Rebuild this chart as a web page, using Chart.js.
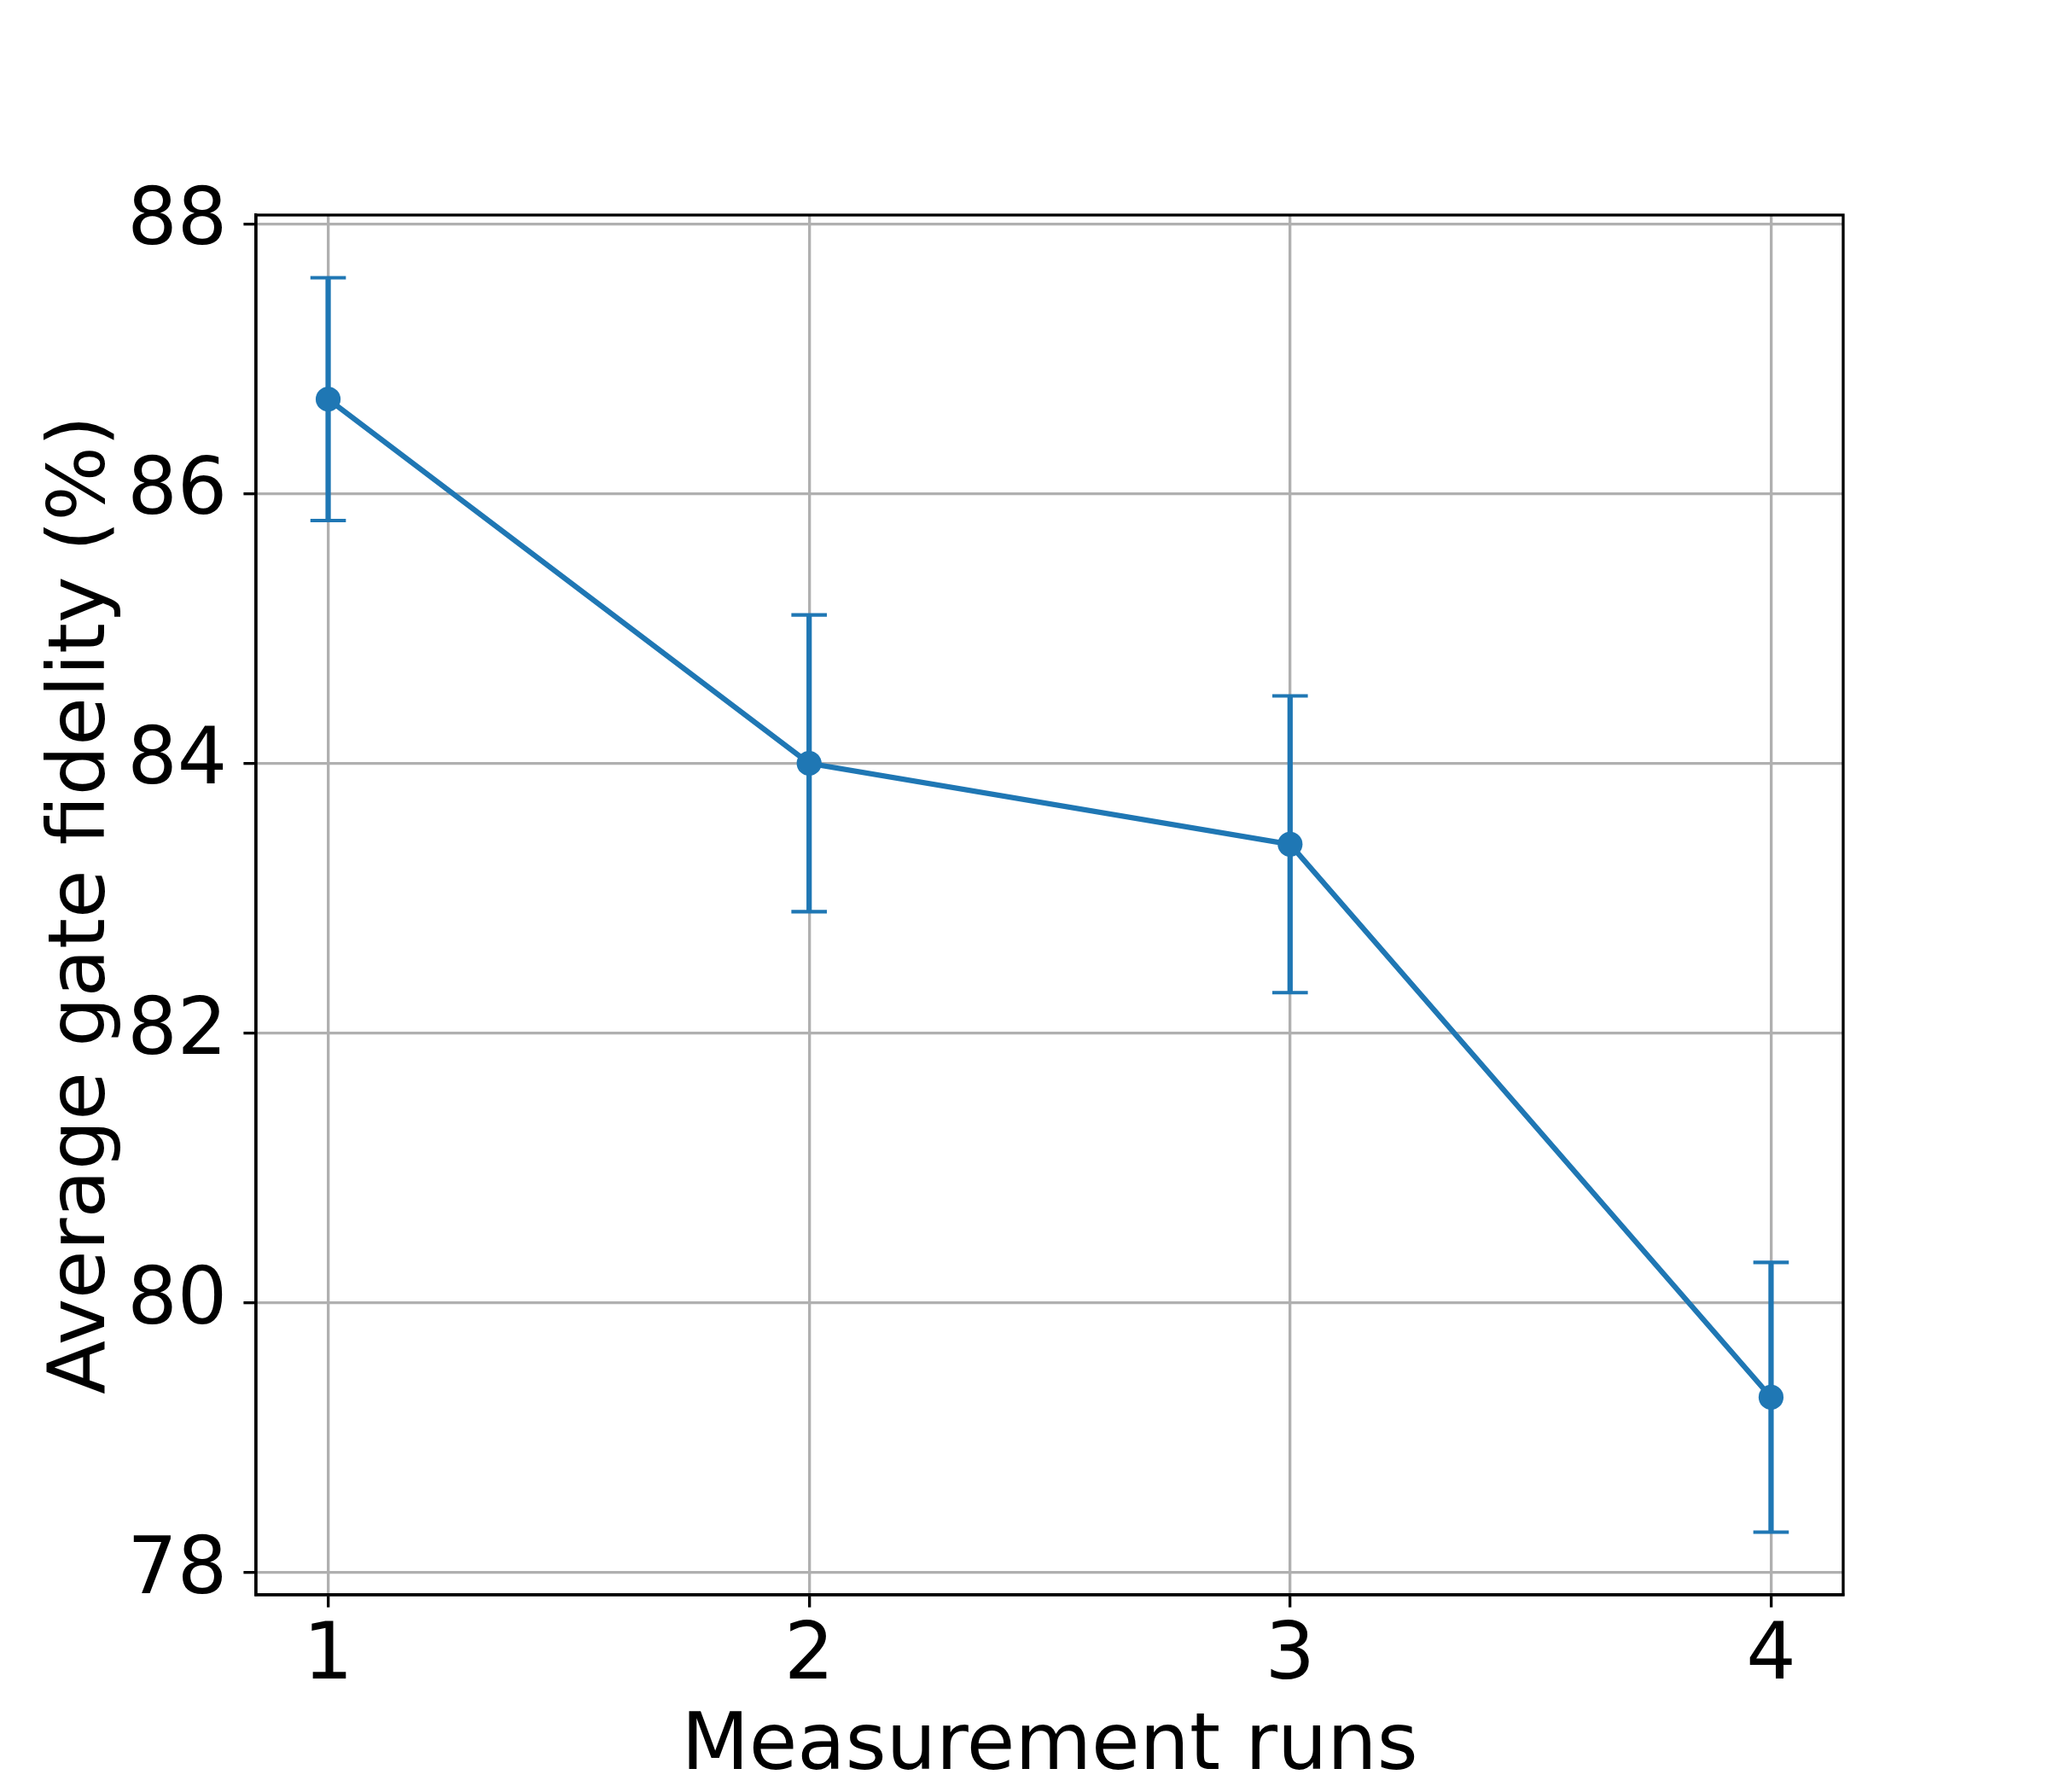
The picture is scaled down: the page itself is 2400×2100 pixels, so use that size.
<!DOCTYPE html>
<html>
<head>
<meta charset="utf-8">
<script src="https://cdn.jsdelivr.net/npm/chart.js@4"></script>
<style>
  html, body { margin: 0; padding: 0; background: #ffffff; }
  #wrap { width: 2400px; height: 2100px; }
</style>
</head>
<body>
<div id="wrap"><canvas id="c" width="2400" height="2100"></canvas></div>
<script>
// ---- data ----
const runs = [1, 2, 3, 4];
const fidelity = [86.7, 84.0, 83.4, 79.3];
const errors = [0.9, 1.1, 1.1, 1.0];
const xTicks = [1, 2, 3, 4];
const yTicks = [78, 80, 82, 84, 86, 88];
const xTitle = 'Measurement runs';
const yTitle = 'Average gate fidelity (%)';

// ---- style ----
const BLUE = '#1f77b4';
const FONT = 'DejaVu Sans';
const LW = 6.25;
const THIN = 3.33;

const mainData = runs.map((x, i) => ({ x: x, y: fidelity[i] }));
const errDatasets = runs.map((x, i) => ({
  type: 'line',
  data: [{ x: x, y: fidelity[i] - errors[i] }, { x: x, y: fidelity[i] + errors[i] }],
  borderColor: BLUE,
  borderWidth: LW,
  pointStyle: 'line',
  pointRadius: 20.8,
  pointBorderWidth: 4.17,
  pointBorderColor: BLUE,
  pointBackgroundColor: BLUE,
  fill: false,
  order: 2
}));

const frame = {
  id: 'frame',
  afterDraw(chart) {
    const a = chart.chartArea, ctx = chart.ctx;
    ctx.save();
    ctx.strokeStyle = '#000';
    ctx.lineWidth = THIN;
    ctx.strokeRect(a.left, a.top, a.right - a.left, a.bottom - a.top);
    ctx.restore();
  }
};

new Chart(document.getElementById('c'), {
  type: 'line',
  data: {
    datasets: [{
      data: mainData,
      borderColor: BLUE,
      backgroundColor: BLUE,
      borderWidth: LW,
      pointRadius: 14.6,
      pointBorderWidth: 0,
      pointBackgroundColor: BLUE,
      tension: 0,
      fill: false,
      order: 1
    }].concat(errDatasets)
  },
  options: {
    responsive: false,
    animation: false,
    events: [],
    layout: { padding: { left: 0, right: 240, top: 252, bottom: 0 } },
    plugins: { legend: { display: false }, tooltip: { enabled: false } },
    scales: {
      x: {
        type: 'linear',
        min: 0.85,
        max: 4.15,
        afterBuildTicks(s) { s.ticks = xTicks.map(v => ({ value: v })); },
        afterFit(s) { s.height = 231; },
        grid: { color: '#b0b0b0', lineWidth: THIN, drawTicks: true, tickLength: 14.6, tickColor: '#000', tickWidth: THIN },
        border: { display: true, color: '#000', width: THIN },
        ticks: {
          color: '#000', padding: 13, maxRotation: 0,
          font: { family: FONT, size: 92, lineHeight: 1.0 },
          callback: v => String(v)
        },
        title: {
          display: true, text: xTitle, color: '#000',
          font: { family: FONT, size: 92, lineHeight: 1.1 },
          padding: { top: 0, bottom: 0.6 }
        }
      },
      y: {
        type: 'linear',
        min: 77.835,
        max: 88.065,
        afterBuildTicks(s) { s.ticks = yTicks.map(v => ({ value: v })); },
        afterFit(s) { s.width = 300; },
        grid: { color: '#b0b0b0', lineWidth: THIN, drawTicks: true, tickLength: 14.6, tickColor: '#000', tickWidth: THIN },
        border: { display: true, color: '#000', width: THIN },
        ticks: {
          color: '#000', padding: 19,
          font: { family: FONT, size: 92, lineHeight: 1.0 },
          callback: v => String(v)
        },
        title: {
          display: true, text: yTitle, color: '#000',
          font: { family: FONT, size: 92, lineHeight: 1.2 },
          padding: { top: 43, bottom: 0 }
        }
      }
    }
  },
  plugins: [frame]
});
</script>
</body>
</html>
